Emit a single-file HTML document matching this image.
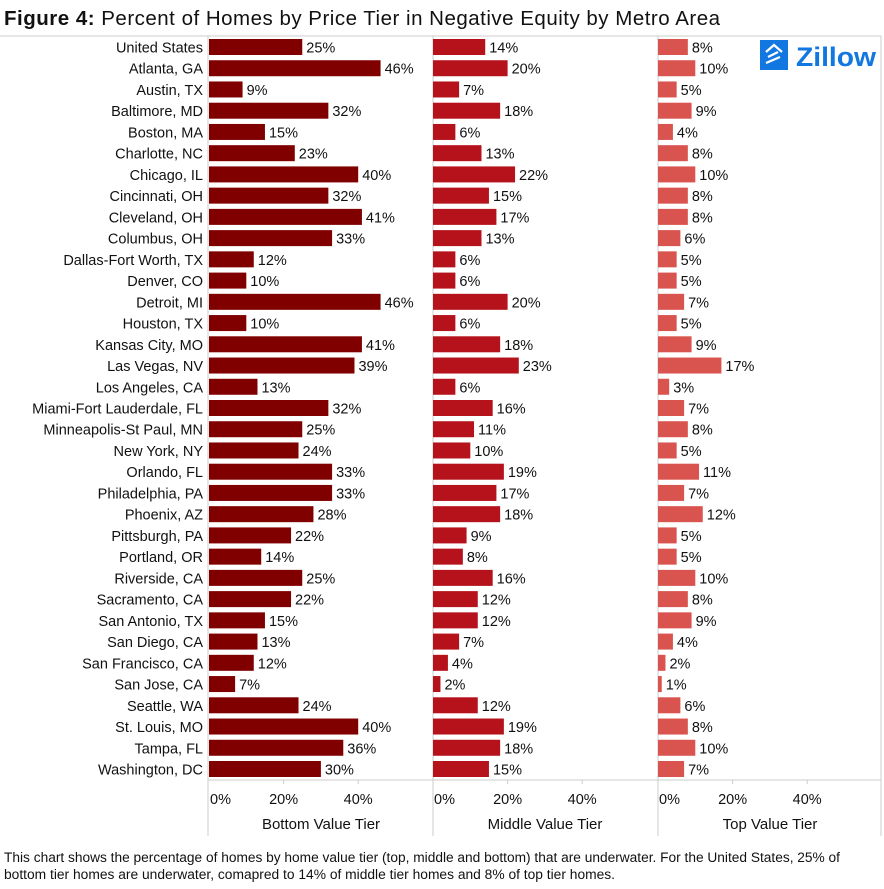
<!DOCTYPE html>
<html><head><meta charset="utf-8">
<style>
body{margin:0;background:#fff;}
svg text{font-family:"Liberation Sans",sans-serif;}
</style></head>
<body>
<svg id="c" width="884" height="884" viewBox="0 0 884 884" xmlns="http://www.w3.org/2000/svg">
<text x="4" y="25" font-size="20.5" fill="#111" textLength="716" lengthAdjust="spacing"><tspan font-weight="bold">Figure 4:</tspan> Percent of Homes by Price Tier in Negative Equity by Metro Area</text>
<g id="g"></g>
<g>
<rect x="760" y="40" width="28" height="30" fill="#1277e1"/>
<path d="M766 52 L774 45 L782 52 M768 57 L778 52 M766 63 L780 57" stroke="#fff" stroke-width="2.2" fill="none"/>
<text x="796" y="66" font-size="27" font-weight="bold" fill="#1277e1" textLength="80" lengthAdjust="spacingAndGlyphs">Zillow</text>
</g>
<text x="4" y="862" font-size="13.4" fill="#111" textLength="836" lengthAdjust="spacingAndGlyphs">This chart shows the percentage of homes by home value tier (top, middle and bottom) that are underwater.  For the United States, 25% of</text>
<text x="4" y="879" font-size="13.4" fill="#111" textLength="611" lengthAdjust="spacingAndGlyphs">bottom tier homes are underwater, comapred to 14% of middle tier homes and 8% of top tier homes.</text>
</svg>
<script>
const categories=["United States","Atlanta, GA","Austin, TX","Baltimore, MD","Boston, MA","Charlotte, NC","Chicago, IL","Cincinnati, OH","Cleveland, OH","Columbus, OH","Dallas-Fort Worth, TX","Denver, CO","Detroit, MI","Houston, TX","Kansas City, MO","Las Vegas, NV","Los Angeles, CA","Miami-Fort Lauderdale, FL","Minneapolis-St Paul, MN","New York, NY","Orlando, FL","Philadelphia, PA","Phoenix, AZ","Pittsburgh, PA","Portland, OR","Riverside, CA","Sacramento, CA","San Antonio, TX","San Diego, CA","San Francisco, CA","San Jose, CA","Seattle, WA","St. Louis, MO","Tampa, FL","Washington, DC"];
const bottomTier=[25,46,9,32,15,23,40,32,41,33,12,10,46,10,41,39,13,32,25,24,33,33,28,22,14,25,22,15,13,12,7,24,40,36,30];
const middleTier=[14,20,7,18,6,13,22,15,17,13,6,6,20,6,18,23,6,16,11,10,19,17,18,9,8,16,12,12,7,4,2,12,19,18,15];
const topTier=[8,10,5,9,4,8,10,8,8,6,5,5,7,5,9,17,3,7,8,5,11,7,12,5,5,10,8,9,4,2,1,6,8,10,7];
const tickValues=[0,20,40];
const panelTitles=["Bottom Value Tier","Middle Value Tier","Top Value Tier"];
const NS="http://www.w3.org/2000/svg";
const g=document.getElementById('g');
function mk(t,a,p){const e=document.createElementNS(NS,t);for(const k in a)e.setAttribute(k,a[k]);(p||g).appendChild(e);return e;}
const y0=47,step=(769-47)/(categories.length-1),bh=16,k=3.73;
const starts=[209,433,658],colors=["#800000","#b5121b","#d9534f"],series=[bottomTier,middleTier,topTier];
function yPos(i){return y0+i*step;}
function xPos(p,v){return starts[p]+v*k;}
let ln=mk('line',{x1:0,y1:36,x2:881,y2:36,stroke:'#ccc'});

ln=mk('line',{x1:208,y1:780,x2:881,y2:780,stroke:'#ccc'});

[208,433,658,881].forEach(x=>{const l=mk('line',{x1:x,y1:36,x2:x,y2:836,stroke:'#ccc'});
});
categories.forEach((c,i)=>{const t=mk('text',{x:203,y:yPos(i)+5.5,'text-anchor':'end','font-size':14.5,fill:'#111'});t.textContent=c;
});
series.forEach((s,p)=>{
 s.forEach((v,i)=>{
  const r=mk('rect',{x:starts[p],y:yPos(i)-bh/2,width:xPos(p,v)-starts[p],height:bh,fill:colors[p]});
  
  const t=mk('text',{x:xPos(p,v)+4,y:yPos(i)+5.5,'font-size':14.5,fill:'#111'});t.textContent=v+'%';
  
 });
 tickValues.forEach(tv=>{
  const x=xPos(p,tv);
  if(tv>0){const tk=mk('line',{x1:x,y1:780,x2:x,y2:784,stroke:'#ccc'});}
  const t=mk('text',{x:tv===0?x+1:x,y:804,'text-anchor':tv===0?'start':'middle','font-size':14.5,fill:'#111'});t.textContent=tv+'%';
  
 });
 const pt=mk('text',{x:starts[p]+112,y:829,'text-anchor':'middle','font-size':15,fill:'#111'});pt.textContent=panelTitles[p];
 
});
</script>
</body></html>
